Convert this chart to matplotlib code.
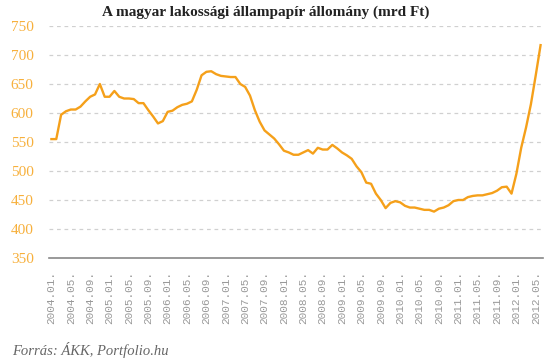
import matplotlib
matplotlib.use("Agg")
import matplotlib.pyplot as plt

# Monthly data 2004.01 - 2012.06 (mrd Ft)
values = [
    555, 555, 597, 603, 606, 606, 611, 620, 628, 632,
    650, 628, 628, 638, 628, 625, 625, 624, 617, 617,
    605, 594, 582, 586, 602, 604, 610, 614, 616, 620,
    640, 665, 671, 672, 667, 664, 663, 662, 662, 650,
    645, 630, 605, 585, 570, 563, 556, 546, 535, 532,
    528, 528, 532, 536, 530, 540, 537, 537, 545, 539,
    532, 527, 521, 508, 498, 480, 478, 461, 450, 436,
    445, 448, 446, 440, 437, 437, 435, 433, 433, 430,
    435, 437, 441, 448, 450, 450, 455, 457, 458, 458,
    460, 462, 466, 472, 473, 461, 495, 540, 575, 615,
    665, 717,
]
months = [f"{2004 + i // 12}.{i % 12 + 1:02d}." for i in range(len(values))]
yticks = [350, 400, 450, 500, 550, 600, 650, 700, 750]

title = "A magyar lakossági állampapír állomány (mrd Ft)"
source = "Forrás: ÁKK, Portfolio.hu"

orange = "#F5A01A"

fig = plt.figure(figsize=(5.54, 3.64), dpi=100)
ax = fig.add_axes([49 / 554, 1 - 258 / 364, (543 - 49) / 554, (258 - 26) / 364])

x = list(range(len(values)))
ax.plot(x, values, color=orange, linewidth=1.7, solid_joinstyle="round")

ax.set_ylim(350, 750)
ax.set_xlim(-0.5, len(values) - 0.5)
ax.set_yticks(yticks)
ax.set_yticklabels([str(v) for v in yticks], family="Liberation Serif",
                   fontsize=11, color="#F7B03C")
ax.set_xticks(x[::4])
ax.set_xticklabels(months[::4], rotation=90, family="Liberation Mono",
                   fontsize=8, color="#999999", va="top")

ax.tick_params(axis="y", length=0, pad=11)
ax.tick_params(axis="x", length=0, pad=9)

for v in yticks[1:]:
    ax.axhline(v, color="#d0d0d0", linewidth=0.9, linestyle=(0, (3, 3)), zorder=0)

for s in ["top", "right", "left"]:
    ax.spines[s].set_visible(False)
ax.spines["bottom"].set_color("#888888")
ax.spines["bottom"].set_linewidth(1.2)

fig.text(266 / 554, 1 - 12 / 364, title, ha="center", va="center",
         family="Liberation Serif", fontweight="bold", fontsize=11, color="#222222")
fig.text(12 / 554, 1 - 350 / 364, source, ha="left", va="center",
         family="Liberation Serif", style="italic", fontsize=10.5, color="#666666")

fig.savefig("out.png", dpi=100)
